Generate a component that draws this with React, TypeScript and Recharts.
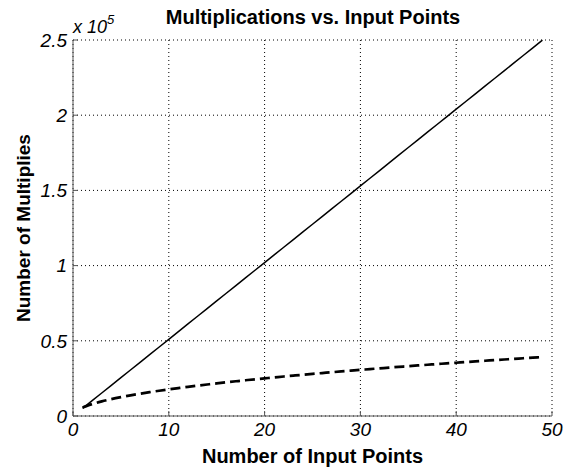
import React from 'react';
import { LineChart, Line, XAxis, YAxis, CartesianGrid, Label } from 'recharts';

const inputPoints = [
  1, 2, 3, 4, 5, 6, 7, 8, 9, 10, 11, 12, 13, 14, 15, 16, 17, 18, 19, 20, 21, 22, 23, 24, 25,
  26, 27, 28, 29, 30, 31, 32, 33, 34, 35, 36, 37, 38, 39, 40, 41, 42, 43, 44, 45, 46, 47, 48, 49,
];

const directMultiplies = [
  5100, 10200, 15300, 20400, 25500, 30600, 35700, 40800, 45900, 51000, 56100, 61200, 66300,
  71400, 76500, 81600, 86700, 91800, 96900, 102000, 107100, 112200, 117300, 122400, 127500,
  132600, 137700, 142800, 147900, 153000, 158100, 163200, 168300, 173400, 178500, 183600,
  188700, 193800, 198900, 204000, 209100, 214200, 219300, 224400, 229500, 234600, 239700,
  244800, 249900,
];

const fastMultiplies = [
  5600, 7920, 9700, 11200, 12520, 13720, 14820, 15840, 16800, 17710, 18570, 19400, 20190,
  20950, 21690, 22400, 23090, 23760, 24410, 25040, 25660, 26270, 26860, 27430, 28000, 28550,
  29100, 29630, 30160, 30670, 31180, 31680, 32170, 32650, 33130, 33600, 34060, 34520, 34970,
  35420, 35860, 36290, 36720, 37150, 37570, 37980, 38390, 38800, 39200,
];

const xTicks = [0, 10, 20, 30, 40, 50];
const yTicks = [0, 50000, 100000, 150000, 200000, 250000];

const data = inputPoints.map((n, i) => ({
  n,
  direct: directMultiplies[i],
  fast: fastMultiplies[i],
}));

const font = '"Liberation Sans", Arial, sans-serif';
const tickStyle = { fontFamily: font, fontSize: 19, fontStyle: 'italic', fill: '#000' };
const labelStyle = { fontFamily: font, fontWeight: 'bold', fontSize: 20, fill: '#000' };
const frame = '#555';

const App: React.FC = () => {
  return (
    <div style={{ position: 'absolute', left: 0, top: 0, width: 571, height: 468, background: '#fff' }}>
      <div
        style={{
          position: 'absolute',
          left: 13,
          width: 600,
          top: 6,
          textAlign: 'center',
          fontFamily: font,
          fontWeight: 'bold',
          fontSize: 20,
        }}
      >
        Multiplications vs. Input Points
      </div>
      <div
        style={{
          position: 'absolute',
          left: 73,
          top: 14,
          fontFamily: font,
          fontStyle: 'italic',
          fontSize: 18,
        }}
      >
        x 10<sup style={{ fontSize: 13, position: 'relative', top: -2 }}>5</sup>
      </div>
      <LineChart
        width={571}
        height={468}
        data={data}
        margin={{ top: 40, right: 19, left: 13, bottom: 22 }}
      >
        <CartesianGrid stroke="#000" strokeDasharray="1 3" />
        <XAxis
          xAxisId="top"
          dataKey="n"
          type="number"
          orientation="top"
          domain={[0, 50]}
          ticks={xTicks}
          tick={false}
          height={0}
          stroke={frame}
          tickSize={-5}
        />
        <YAxis
          yAxisId="right"
          orientation="right"
          domain={[0, 250000]}
          ticks={yTicks}
          tick={false}
          width={0}
          stroke={frame}
          tickSize={-5}
        />
        <XAxis
          dataKey="n"
          type="number"
          domain={[0, 50]}
          ticks={xTicks}
          tick={tickStyle}
          stroke={frame}
          tickSize={-5}
          tickMargin={12}
          height={30}
        >
          <Label
            value="Number of Input Points"
            position="insideBottom"
            offset={-17}
            style={labelStyle}
          />
        </XAxis>
        <YAxis
          domain={[0, 250000]}
          ticks={yTicks}
          tickFormatter={(v: number) => String(v / 100000)}
          tick={tickStyle}
          stroke={frame}
          tickSize={-5}
          tickMargin={11}
          width={60}
        >
          <Label
            value="Number of Multiplies"
            angle={-90}
            position="insideLeft"
            offset={10}
            style={{ ...labelStyle, fontSize: 19, textAnchor: 'middle' }}
          />
        </YAxis>
        <Line
          dataKey="direct"
          stroke="#000"
          strokeWidth={1.5}
          dot={false}
          type="linear"
          isAnimationActive={false}
        />
        <Line
          dataKey="fast"
          stroke="#000"
          strokeWidth={2.7}
          strokeDasharray="10 5"
          dot={false}
          type="monotone"
          isAnimationActive={false}
        />
      </LineChart>
    </div>
  );
};

export default App;
